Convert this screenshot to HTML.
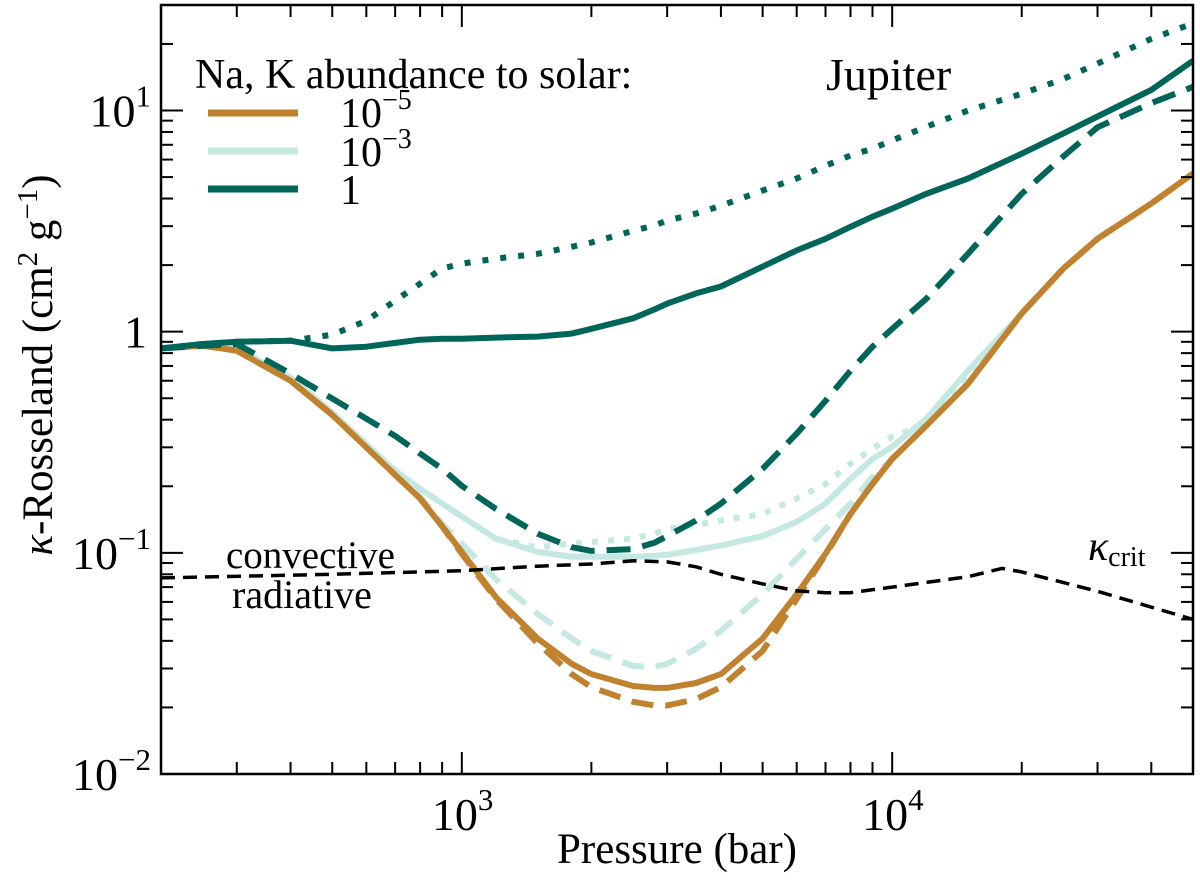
<!DOCTYPE html>
<html><head><meta charset="utf-8"><style>
body{margin:0;background:#fff;}
svg text{font-family:"Liberation Serif",serif;fill:#000;}
</style></head><body>
<svg id="chart" width="1200" height="881" viewBox="0 0 1200 881" xmlns="http://www.w3.org/2000/svg">
<g id="series"></g>
<g id="axes"></g>
<text x="195" y="88" font-size="42">Na, K abundance to solar:</text>
<line x1="208" y1="113" x2="298" y2="113" stroke="#C0822F" stroke-width="7"/>
<line x1="208" y1="151" x2="298" y2="151" stroke="#C5E8E2" stroke-width="7"/>
<line x1="208" y1="189" x2="298" y2="189" stroke="#00665A" stroke-width="7"/>
<text x="340" y="127" font-size="42">10<tspan dy="-18" font-size="28">−5</tspan></text>
<text x="340" y="166" font-size="42">10<tspan dy="-18" font-size="28">−3</tspan></text>
<text x="340" y="204" font-size="42">1</text>
<text x="826" y="90" font-size="46">Jupiter</text>
<text x="226" y="568" font-size="39">convective</text>
<text x="232" y="608" font-size="40">radiative</text>
<text x="1088" y="560" font-size="42" font-style="italic">κ<tspan font-style="normal" font-size="28" dy="6">crit</tspan></text>
<text x="677" y="863" font-size="43" text-anchor="middle">Pressure (bar)</text>
<text transform="translate(52,365) rotate(-90)" font-size="43" text-anchor="middle"><tspan font-style="italic">κ</tspan>-Rosseland (cm<tspan dy="-15" font-size="29">2</tspan><tspan dy="15"> g</tspan><tspan dy="-15" font-size="29">−1</tspan><tspan dy="15">)</tspan></text>
</svg>
<script>
const pressures=[200,250,300,400,500,600,700,800,900,1000,1200,1500,1800,2000,2500,2800,3000,3500,4000,5000,6000,7000,8000,9000,10000,12000,15000,20000,25000,30000,40000,50000];
const greenSolid=[0.84,0.88,0.90,0.91,0.84,0.855,0.89,0.92,0.93,0.93,0.94,0.95,0.98,1.03,1.15,1.26,1.34,1.49,1.60,1.97,2.33,2.63,2.98,3.31,3.60,4.2,4.93,6.38,7.88,9.4,12.4,16.8];
const greenDotted=[0.84,0.88,0.90,0.91,0.969,1.12,1.38,1.65,1.93,2.03,2.14,2.25,2.42,2.53,2.86,3.02,3.18,3.42,3.71,4.35,4.93,5.63,6.26,6.73,7.33,8.44,10.0,11.9,13.9,16.3,21.1,24.8];
const greenDashed=[0.84,0.864,0.88,0.646,0.498,0.404,0.338,0.281,0.24,0.201,0.158,0.122,0.106,0.102,0.104,0.111,0.119,0.140,0.167,0.24,0.346,0.487,0.666,0.855,1.03,1.41,2.25,4.2,6.2,8.4,10.8,12.8];
const lightSolid=[0.84,0.864,0.84,0.62,0.43,0.31,0.235,0.195,0.167,0.146,0.116,0.101,0.096,0.096,0.096,0.097,0.098,0.103,0.108,0.119,0.138,0.167,0.216,0.266,0.302,0.404,0.667,1.21,1.93,2.63,3.8,5.19];
const lightDotted=[0.84,0.864,0.84,0.62,0.43,0.31,0.235,0.195,0.167,0.146,0.116,0.106,0.110,0.112,0.116,0.122,0.128,0.134,0.140,0.150,0.176,0.205,0.253,0.296,0.335,0.383,0.646,1.21,1.93,2.63,3.8,5.19];
const lightDashed=[0.84,0.864,0.84,0.62,0.43,0.31,0.235,0.180,0.135,0.110,0.076,0.053,0.041,0.036,0.0308,0.0305,0.0315,0.0368,0.0444,0.065,0.094,0.128,0.167,0.221,0.266,0.376,0.582,1.21,1.93,2.63,3.8,5.19];
const orangeSolid=[0.84,0.864,0.82,0.60,0.42,0.30,0.225,0.176,0.132,0.101,0.063,0.041,0.0315,0.0283,0.025,0.0245,0.0245,0.0258,0.0283,0.041,0.065,0.099,0.150,0.205,0.266,0.376,0.582,1.21,1.93,2.63,3.8,5.19];
const orangeDashed=[0.84,0.864,0.82,0.60,0.42,0.30,0.225,0.176,0.132,0.099,0.062,0.039,0.0283,0.0247,0.0212,0.0204,0.0204,0.0218,0.0247,0.036,0.062,0.098,0.150,0.205,0.266,0.376,0.582,1.21,1.93,2.63,3.8,5.19];
const critPressures=[200,500,1000,1500,2000,2500,3000,3500,4000,5000,6000,7000,8000,10000,15000,18000,20000,30000,50000];
const kappaCrit=[0.077,0.080,0.083,0.087,0.089,0.092,0.091,0.0865,0.080,0.0724,0.0673,0.066,0.066,0.070,0.078,0.085,0.082,0.067,0.050];
const xTickLabels=["3","4"];
const yTickLabels=["−2","−1","0","1"];

const L=161,R=1193,T=5,B=774;
const xMin=Math.log10(200),xMax=Math.log10(50000),yMin=-2,yMax=Math.log10(30);
function X(p){return L+(Math.log10(p)-xMin)/(xMax-xMin)*(R-L);}
function Y(k){return B-(Math.log10(k)-yMin)/(yMax-yMin)*(B-T);}
const NS="http://www.w3.org/2000/svg";
const sg=document.getElementById('series'),ag=document.getElementById('axes');
function path(xs,ys,color,w,dash,name){
  const p=document.createElementNS(NS,'path');
  p.setAttribute('d',xs.map((x,i)=>(i?'L':'M')+X(x).toFixed(1)+','+Y(ys[i]).toFixed(1)).join(''));
  p.setAttribute('fill','none');p.setAttribute('stroke',color);p.setAttribute('stroke-width',w);
  p.setAttribute('stroke-linejoin','round');
  if(dash)p.setAttribute('stroke-dasharray',dash);
  
  
  sg.appendChild(p);
}
const OR="#C0822F",LT="#C5E8E2",GR="#00665A";
path(pressures,lightDotted,LT,6,"6 10",'line-1e-3-dotted');
path(pressures,lightDashed,LT,6,"22 12",'line-1e-3-dashed');
path(pressures,lightSolid,LT,6,null,'line-1e-3-solid');
path(pressures,orangeDashed,OR,6,"22 12",'line-1e-5-dashed');
path(pressures,orangeSolid,OR,6,null,'line-1e-5-solid');
path(pressures,greenDotted,GR,6,"6 12",'line-1-dotted');
path(pressures,greenDashed,GR,6,"24 12",'line-1-dashed');
path(pressures,greenSolid,GR,6,null,'line-1-solid');
path(critPressures,kappaCrit,"#000",3.5,"14 8",'kappa-crit-line');

function ln(x1,y1,x2,y2,name){
  const l=document.createElementNS(NS,'line');
  l.setAttribute('x1',x1);l.setAttribute('y1',y1);l.setAttribute('x2',x2);l.setAttribute('y2',y2);
  l.setAttribute('stroke','#000');l.setAttribute('stroke-width',2);
  
  
  ag.appendChild(l);
}
const fr=document.createElementNS(NS,'rect');
fr.setAttribute('x',L);fr.setAttribute('y',T);fr.setAttribute('width',R-L);fr.setAttribute('height',B-T);
fr.setAttribute('fill','none');fr.setAttribute('stroke','#000');fr.setAttribute('stroke-width',2.5);


ag.appendChild(fr);
for(let d=2;d<=4;d++)for(let m=1;m<10;m++){
  const p=m*Math.pow(10,d);if(p<200||p>50000)continue;
  const x=X(p),len=m===1?22:12;
  ln(x,B,x,B-len,'x-tick');ln(x,T,x,T+len,'x-tick');
}
for(let d=-2;d<=1;d++)for(let m=1;m<10;m++){
  const k=m*Math.pow(10,d);if(k>30)continue;
  const y=Y(k),len=m===1?22:12;
  ln(L,y,L+len,y,'y-tick');ln(R,y,R-len,y,'y-tick');
}
xTickLabels.forEach(e=>{
  const t=document.createElementNS(NS,'text');
  t.setAttribute('x',X(Math.pow(10,+e))-30);t.setAttribute('y',B+56);t.setAttribute('font-size',46);
  t.innerHTML='10<tspan dy="-20" font-size="31">'+e+'</tspan>';
  
  
  ag.appendChild(t);
});
yTickLabels.forEach(e=>{
  const v=+e.replace('−','-');
  const t=document.createElementNS(NS,'text');
  t.setAttribute('y',Y(Math.pow(10,v))+16);t.setAttribute('font-size',46);t.setAttribute('text-anchor','end');
  if(v===0){t.setAttribute('x',L-14);t.textContent='1';}
  else{t.setAttribute('x',L-10);t.innerHTML='10<tspan dy="-20" font-size="31">'+e+'</tspan>';}
  
  
  ag.appendChild(t);
});
</script>
</body></html>
